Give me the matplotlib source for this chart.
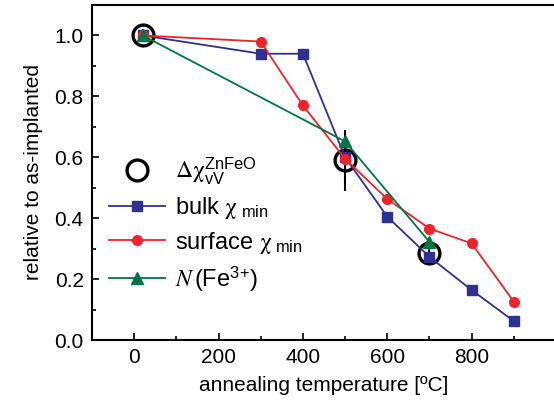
import matplotlib
matplotlib.use("Agg")
import matplotlib.pyplot as plt
from matplotlib.ticker import MultipleLocator, FormatStrFormatter

plt.rcParams['font.family'] = ['Liberation Sans', 'DejaVu Sans']
plt.rcParams['mathtext.fontset'] = 'custom'
plt.rcParams['mathtext.rm'] = 'Liberation Sans'
plt.rcParams['mathtext.sf'] = 'Liberation Sans'
plt.rcParams['mathtext.it'] = 'STIXGeneral:italic'
plt.rcParams['mathtext.cal'] = 'STIXGeneral'  # upright serif greek

# annealing temperatures [C]
temp_all = [20, 300, 400, 500, 600, 700, 800, 900]
temp_few = [20, 500, 700]

bulk_chi = [1.0, 0.94, 0.94, 0.60, 0.405, 0.273, 0.164, 0.062]
surface_chi = [1.0, 0.98, 0.77, 0.595, 0.463, 0.366, 0.317, 0.126]
fe3_frac = [1.0, 0.652, 0.322]
dchi_vv = [1.0, 0.59, 0.287]
dchi_err = [0.02, 0.10, 0.03]

fig = plt.figure(figsize=(5.54, 4.07), dpi=100)
ax = fig.add_axes([92 / 554, 67 / 407, 464 / 554, 335 / 407])

eb = ax.errorbar(temp_few, dchi_vv, yerr=dchi_err, fmt='o', mfc='none', mec='black',
                 mew=2.4, ms=15, ecolor='black', elinewidth=1.5, capsize=0, zorder=2)
bulk, = ax.plot(temp_all, bulk_chi, '-s', color='#2E3192', lw=1.3, ms=6.5, zorder=3)
surf, = ax.plot(temp_all, surface_chi, '-o', color='#F0222A', lw=1.3, ms=7, zorder=4)
fe3, = ax.plot(temp_few, fe3_frac, '-^', color='#007548', lw=1.3, ms=9, zorder=5)

ax.set_xlim(-100, 1000)
ax.set_ylim(0, 1.1)
ax.set_xticks([0, 200, 400, 600, 800])
ax.xaxis.set_minor_locator(MultipleLocator(100))
ax.yaxis.set_major_locator(MultipleLocator(0.2))
ax.yaxis.set_minor_locator(MultipleLocator(0.1))
ax.yaxis.set_major_formatter(FormatStrFormatter('%.1f'))
ax.tick_params(which='both', direction='in', labelsize=15, width=1.2)
ax.tick_params(which='major', length=5, pad=6)
ax.tick_params(which='minor', length=3)
for s in ax.spines.values():
    s.set_linewidth(1.5)

ax.set_xlabel('annealing temperature [ºC]', fontsize=15, labelpad=6)
ax.set_ylabel('relative to as-implanted', fontsize=15, labelpad=8)

handles = [eb[0], bulk, surf, fe3]
labels = [r'$\mathcal{\Delta\chi}_{\mathrm{vV}}^{\mathrm{ZnFeO}}$',
          r'bulk $\mathcal{\chi}_{\ \mathrm{min}}$',
          r'surface $\mathcal{\chi}_{\ \mathrm{min}}$',
          r'$N\,$(Fe$^{3{+}}$)']
ax.legend(handles, labels, loc='upper left', bbox_to_anchor=(0.0, 0.6),
          frameon=False, fontsize=17, handlelength=2.4, handletextpad=0.4,
          labelspacing=0.35, borderaxespad=0.3)

fig.savefig('out.png', dpi=100)
